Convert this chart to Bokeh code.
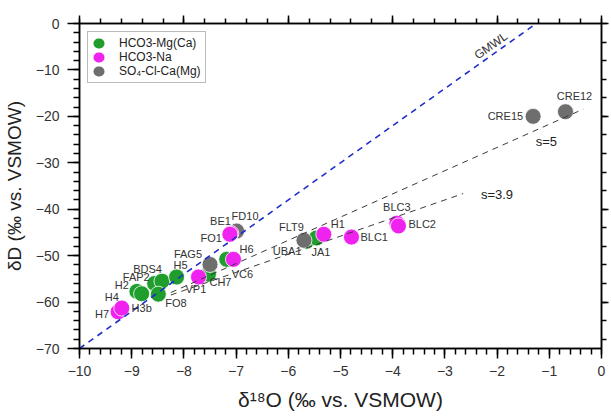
import math
from bokeh.plotting import figure
from bokeh.models import (ColumnDataSource, LinearAxis, SingleIntervalTicker,
                          Legend, LegendItem, Label, CustomJSTickFormatter)
from bokeh.core.properties import value
from bokeh.embed import file_html
from bokeh.resources import INLINE

# ---------------- data ----------------
green_names = ["H2", "H3b", "FAP2", "BDS4", "FO8", "H5", "CH7", "VC6", "UBA1", "JA1"]
green_d18O = [-8.90, -8.81, -8.56, -8.42, -8.49, -8.14, -7.53, -7.18, -5.65, -5.46]
green_dD = [-57.7, -58.2, -56.0, -55.5, -58.3, -54.6, -54.0, -50.8, -46.9, -46.2]

pink_names = ["H7", "H4", "VP1", "H6", "BE1", "FO1", "H1", "BLC1", "BLC3", "BLC2"]
pink_d18O = [-9.26, -9.19, -7.72, -7.05, -7.10, -7.12, -5.32, -4.79, -3.92, -3.89]
pink_dD = [-62.1, -61.3, -54.6, -50.8, -45.2, -45.4, -45.4, -46.0, -43.0, -43.6]

gray_names = ["FAG5", "FD10", "FLT9", "CRE15", "CRE12"]
gray_d18O = [-7.50, -6.99, -5.70, -1.31, -0.69]
gray_dD = [-51.9, -44.7, -46.7, -20.0, -19.0]

series_labels = ["HCO3-Mg(Ca)", "HCO3-Na", "SO\u2084-Cl-Ca(Mg)"]

# reference lines: slope, intercept, x extent
gmwl_slope, gmwl_intercept, gmwl_x = 8.0, 10.0, [-10.0, -1.25]
s5_slope, s5_intercept, s5_x = 5.0, -16.7, [-8.25, -0.35]
s39_slope, s39_intercept, s39_x = 3.9, -26.3, [-8.25, -2.65]

x_tick_step = 1     # x tick labels -10 ... 0
y_tick_step = 10    # y tick labels -70 ... 0

# ---------------- point-label styling: (align, dx px, dy px) ----------------
label_style = {
    "H2": ("right", -8, -6), "H3b": ("left", -10, 14), "FAP2": ("right", -5, -7),
    "BDS4": ("right", 0, -12), "FO8": ("left", 7, 9), "H5": ("left", -3, -12),
    "CH7": ("left", 1, 8), "VC6": ("left", 5, 15), "UBA1": ("right", -5, 10),
    "JA1": ("left", -5, 14), "H7": ("right", -9, 2), "H4": ("right", -3, -11),
    "VP1": ("left", -13, 12), "H6": ("left", 6, -10), "BE1": ("right", 0, -12),
    "FO1": ("right", -8, 4), "H1": ("left", 7, -10), "BLC1": ("left", 9, 0),
    "BLC3": ("center", 0, -16), "BLC2": ("left", 10, -2), "FAG5": ("right", -8, -10),
    "FD10": ("left", -5, -15), "FLT9": ("right", 0, -13), "CRE15": ("right", -10, 0),
    "CRE12": ("center", 9, -16),
}

FONT = "Liberation Sans"
GREEN, PINK, GRAY = "#1f9e2e", "#f022f0", "#6e6e6e"

W, H = 611, 416
BL, BR, BT, BB = 78, 10, 23, 68
p = figure(width=W, height=H, x_range=(-10, 0), y_range=(-70, 0),
           output_backend="svg", toolbar_location=None,
           min_border_left=BL, min_border_right=BR, min_border_top=BT, min_border_bottom=BB)
p.xgrid.visible = False
p.ygrid.visible = False
p.outline_line_color = "black"
p.outline_line_width = 1.5

xa = p.xaxis[0]
xa.ticker = SingleIntervalTicker(interval=x_tick_step, num_minor_ticks=5)
xa.axis_label = "\u03b4\u00b9\u2078O (\u2030 vs. VSMOW)"
ya = p.yaxis[0]
ya.ticker = SingleIntervalTicker(interval=y_tick_step, num_minor_ticks=5)
ya.axis_label = "\u03b4D (\u2030 vs. VSMOW)"

blank = CustomJSTickFormatter(code="return ''")
top_ax = LinearAxis(ticker=SingleIntervalTicker(interval=2, num_minor_ticks=5), formatter=blank)
right_ax = LinearAxis(ticker=SingleIntervalTicker(interval=20, num_minor_ticks=5), formatter=blank)
p.add_layout(top_ax, "above")
p.add_layout(right_ax, "right")

for ax, maj, mnr in ((xa, 10, 6), (ya, 12, 6), (top_ax, 8, 5), (right_ax, 7, 5)):
    ax.axis_line_width = 1.5
    ax.axis_line_color = "black"
    ax.major_tick_line_width = 1.5
    ax.minor_tick_line_width = 1.5
    ax.major_tick_line_color = "black"
    ax.minor_tick_line_color = "black"
    ax.major_tick_out = maj
    ax.major_tick_in = 0
    ax.minor_tick_out = mnr
    ax.minor_tick_in = 0
    ax.major_label_text_font = FONT
    ax.major_label_text_font_size = "14px"
    ax.major_label_text_color = "#333333"
    ax.axis_label_text_font = FONT
    ax.axis_label_text_font_style = "normal"
    ax.axis_label_text_color = "#222222"
for ax in (top_ax, right_ax):
    ax.major_label_standoff = 0
xa.axis_label_text_font_size = "21px"
ya.axis_label_text_font_size = "19px"
xa.major_label_standoff = 7
xa.axis_label_standoff = 9
ya.major_label_standoff = 8
ya.axis_label_standoff = 8

# scatter points
src_g = ColumnDataSource(dict(x=green_d18O, y=green_dD, name=green_names))
src_p = ColumnDataSource(dict(x=pink_d18O, y=pink_dD, name=pink_names))
src_k = ColumnDataSource(dict(x=gray_d18O, y=gray_dD, name=gray_names))
kw = dict(size=16, line_color="white", line_width=0.8)
p.scatter("x", "y", source=src_g, fill_color=GREEN, **kw)
p.scatter("x", "y", source=src_k, fill_color=GRAY, **kw)
p.scatter("x", "y", source=src_p, fill_color=PINK, **kw)

# reference lines
p.line(gmwl_x, [gmwl_slope * v + gmwl_intercept for v in gmwl_x],
       line_color="#1f2fcc", line_width=1.6, line_dash="6 5")
p.line(s5_x, [s5_slope * v + s5_intercept for v in s5_x],
       line_color="#3a3a3a", line_width=1.0, line_dash="6 5")
p.line(s39_x, [s39_slope * v + s39_intercept for v in s39_x],
       line_color="#3a3a3a", line_width=1.0, line_dash="6 5")

# point labels
all_names = green_names + pink_names + gray_names
all_x = green_d18O + pink_d18O + gray_d18O
all_y = green_dD + pink_dD + gray_dD
lab_src = ColumnDataSource(dict(
    x=all_x, y=all_y, text=all_names,
    align=[label_style[n][0] for n in all_names],
    dx=[label_style[n][1] for n in all_names],
    dy=[label_style[n][2] for n in all_names],
))
p.text("x", "y", text="text", source=lab_src, x_offset="dx", y_offset="dy",
       text_align="align", text_baseline="middle", text_font=value(FONT),
       text_font_size="11px", text_color="#333333")

# line annotations
frame_w, frame_h = W - BL - BR, H - BT - BB
ang = math.atan(gmwl_slope * (frame_h / 70.0) / (frame_w / 10.0))
p.add_layout(Label(x=-2.12, y=-4.8, text="GMWL", angle=ang, text_align="center",
                   text_baseline="middle", text_font=FONT, text_font_size="12px",
                   text_color="#333333"))
p.add_layout(Label(x=-1.26, y=-25.4, text="s=5", text_align="left", text_baseline="middle",
                   text_font=FONT, text_font_size="13px", text_color="#222222"))
p.add_layout(Label(x=-2.31, y=-36.9, text="s=3.9", text_align="left", text_baseline="middle",
                   text_font=FONT, text_font_size="13px", text_color="#222222"))

# legend: a single round-capped dash in the middle of the glyph box gives a 10px dot
nan = float("nan")
leg_renderers = [p.line(x=[nan], y=[nan], line_color=c, line_width=10, line_cap="round",
                        line_dash="1 100", line_dash_offset=-6)
                 for c in (GREEN, PINK, GRAY)]
legend = Legend(items=[LegendItem(label=lab, renderers=[r])
                       for lab, r in zip(series_labels, leg_renderers)],
                location="top_left", margin=8, padding=4, spacing=0,
                glyph_width=14, glyph_height=14, label_height=14, label_standoff=13,
                label_text_font=FONT, label_text_font_size="12px", label_text_color="#222222",
                border_line_color="#777777", border_line_width=1,
                background_fill_color="white", background_fill_alpha=1.0)
p.add_layout(legend)

open("out.html", "w").write(file_html(p, INLINE))
